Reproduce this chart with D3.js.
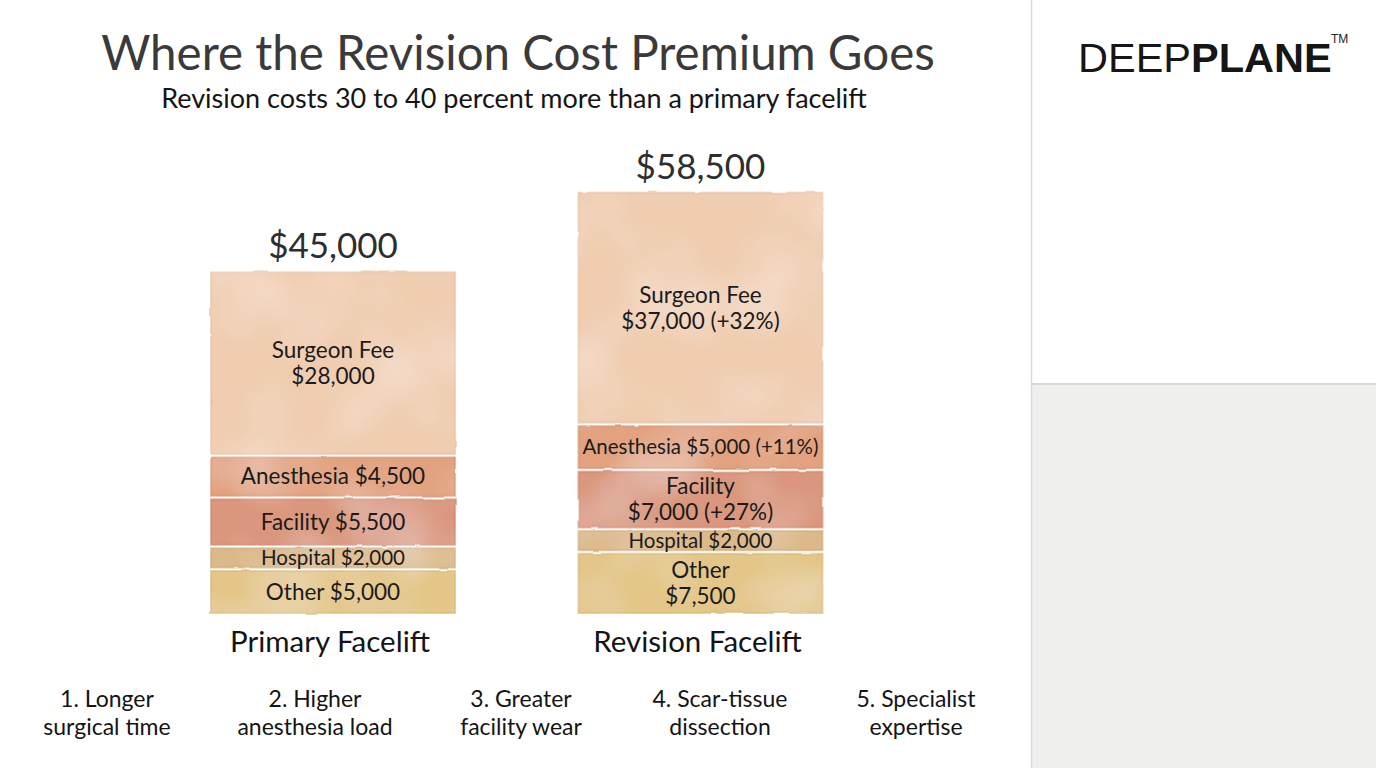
<!DOCTYPE html>
<html><head><meta charset="utf-8">
<script src="https://cdn.jsdelivr.net/npm/d3@7"></script>
<style>
html,body{margin:0;padding:0;background:#fff;}
svg{display:block;font-family:Lato,"Open Sans",sans-serif;}
</style></head>
<body><svg id="c" width="1376" height="768"></svg>
<script>
// ---- data ----
const categories = ["Surgeon Fee","Anesthesia","Facility","Hospital","Other"];
const groups = ["Primary Facelift","Revision Facelift"];
const primaryValues = [28000,4500,5500,2000,5000];
const revisionValues = [37000,5000,7000,2000,7500];
const revisionChange = ["+32%","+11%","+27%",null,null];
const groupTotals = [45000,58500];
const reasons = [["1. Longer","surgical time"],["2. Higher","anesthesia load"],["3. Greater","facility wear"],["4. Scar-tissue","dissection"],["5. Specialist","expertise"]];
const titleText = "Where the Revision Cost Premium Goes";
const subtitleText = "Revision costs 30 to 40 percent more than a primary facelift";
const colors = ["#f0cdb0","#e2a27f","#da977d","#dcb98a","#e3c688"];
const edgeColors = ["#e8bd9b","#d68d69","#cf8267","#cfa672","#d6b46e"];

const svg = d3.select("#c");
const fmt = v => "$" + d3.format(",")(v);

// defs: watercolor filter
const defs = svg.append("defs");
const f = defs.append("filter").attr("id","wc").attr("x","-5%").attr("y","-10%").attr("width","110%").attr("height","120%");
f.append("feTurbulence").attr("type","fractalNoise").attr("baseFrequency","0.035").attr("numOctaves",2).attr("seed",4).attr("result","noise");
f.append("feDisplacementMap").attr("in","SourceGraphic").attr("in2","noise").attr("scale",2.5).attr("xChannelSelector","R").attr("yChannelSelector","G").attr("result","disp");
f.append("feTurbulence").attr("type","fractalNoise").attr("baseFrequency","0.012").attr("numOctaves",2).attr("seed",11).attr("result","n2");
f.append("feColorMatrix").attr("in","n2").attr("type","matrix").attr("values","0 0 0 0 1  0 0 0 0 1  0 0 0 0 1  0.55 0 0 0 -0.22").attr("result","blot");
f.append("feComposite").attr("in","blot").attr("in2","disp").attr("operator","in").attr("result","blot2");
const m = f.append("feMerge");
m.append("feMergeNode").attr("in","disp");
m.append("feMergeNode").attr("in","blot2");

// right panel
svg.append("rect").attr("x",1031).attr("y",384).attr("width",345).attr("height",384).attr("fill","#efefee");
svg.append("line").attr("x1",1031.5).attr("x2",1031.5).attr("y1",0).attr("y2",768).attr("stroke","#dcdcdc").attr("stroke-width",1.5);
svg.append("line").attr("x1",1031).attr("x2",1376).attr("y1",384).attr("y2",384).attr("stroke","#d8d8d8").attr("stroke-width",2);

// logo
const logo = svg.append("text").attr("x",1078).attr("y",72).attr("font-family","'Liberation Sans',Arial,sans-serif")
  .attr("font-size",41.5).attr("fill","#161616")
  .style("paint-order","stroke").attr("stroke","#fff").attr("stroke-width",3);
logo.append("tspan").text("DEEP");
logo.append("tspan").attr("font-weight","bold").text("PLANE");
svg.append("text").attr("x",1331).attr("y",43).attr("font-family","'Liberation Sans',Arial,sans-serif")
  .attr("font-size",12).attr("fill","#222").text("TM");

// titles
svg.append("text").attr("x",518).attr("y",70).attr("text-anchor","middle").attr("font-size",47.5).attr("fill","#3a3a3a").text(titleText);
svg.append("text").attr("x",514).attr("y",108).attr("text-anchor","middle").attr("font-size",27).attr("fill","#151515").text(subtitleText);

// scales
const x = d3.scaleBand().domain(groups).range([211,822.5]).paddingInner(0.336).paddingOuter(0);
const h = d3.scalePow().exponent(0.85).domain([0, d3.max(revisionValues)]).range([0, 230]);
const baseY = 613, gap = 3.5;

const series = [primaryValues, revisionValues];
series.forEach((vals, gi) => {
  const g = svg.append("g");
  const x0 = x(groups[gi]), bw = x.bandwidth();
  let y = baseY;
  const segs = [];
  for (let i = vals.length - 1; i >= 0; i--) {
    const hh = h(vals[i]);
    segs.push({i, v: vals[i], y0: y - hh, hh});
    y = y - hh - gap;
  }
  const top = y + gap;
  segs.forEach(s => {
    g.append("rect").attr("x",x0).attr("y",s.y0).attr("width",bw).attr("height",s.hh)
      .attr("fill",colors[s.i]).attr("stroke",edgeColors[s.i]).attr("stroke-width",2).attr("stroke-opacity",0.6)
      .attr("filter","url(#wc)");
    let valueText = fmt(s.v);
    if (gi === 1 && revisionChange[s.i]) valueText += " (" + revisionChange[s.i] + ")";
    const lines = s.hh > 50 ? [categories[s.i], valueText] : [categories[s.i] + " " + valueText];
    const fs = lines.length === 1 && s.hh < 25 ? 20.5 : 22.5;
    const lh = 26;
    const cy = s.y0 + s.hh / 2;
    const t = g.append("text").attr("text-anchor","middle").attr("font-size",fs).attr("fill","#1b1b1b");
    lines.forEach((ln, k) => {
      t.append("tspan").attr("x", x0 + bw/2).attr("y", cy + (k - (lines.length-1)/2) * lh).attr("dy","0.35em").text(ln);
    });
    const w = t.node().getBBox().width;
    if (w > bw - 8) t.attr("font-size", fs * (bw - 8) / w);
  });
  g.append("text").attr("x",x0+bw/2).attr("y",top-14).attr("text-anchor","middle").attr("font-size",35).attr("fill","#2e2e2e").text(fmt(groupTotals[gi]));
  g.append("text").attr("x",x0+bw/2-3).attr("y",652).attr("text-anchor","middle").attr("font-size",29.5).attr("fill","#141414").text(groups[gi]);
});

// reasons
const rxCenters = [107,315,521,720,916];
reasons.forEach((r, i) => {
  r.forEach((ln, k) => svg.append("text").attr("text-anchor","middle").attr("font-size",23)
    .attr("fill","#141414").attr("x", rxCenters[i]).attr("y", 707 + k*28).text(ln));
});
</script></body></html>
